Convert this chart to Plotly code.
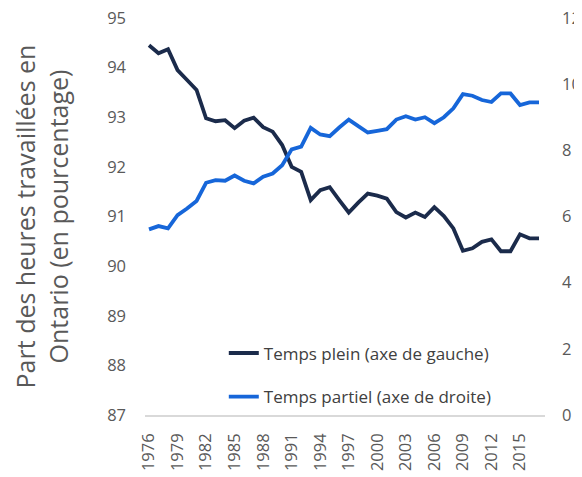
import plotly.graph_objects as go

annees = list(range(1976, 2018))

# Temps plein (axe de gauche), en %
temps_plein = [94.45, 94.29, 94.37, 93.95, 93.75, 93.55, 92.98, 92.92, 92.94, 92.78,
               92.93, 92.99, 92.80, 92.71, 92.44, 92.00, 91.90, 91.33, 91.53, 91.59,
               91.33, 91.08, 91.28, 91.46, 91.42, 91.36, 91.09, 90.98, 91.08, 90.99,
               91.19, 91.01, 90.76, 90.31, 90.36, 90.49, 90.54, 90.30, 90.30, 90.64,
               90.56, 90.56]

# Temps partiel (axe de droite), en %
temps_partiel = [5.61, 5.71, 5.64, 6.04, 6.24, 6.47, 7.02, 7.10, 7.08, 7.24,
                 7.08, 7.00, 7.20, 7.30, 7.55, 8.03, 8.11, 8.68, 8.48, 8.43,
                 8.69, 8.93, 8.73, 8.54, 8.59, 8.64, 8.93, 9.03, 8.93, 9.00,
                 8.82, 9.00, 9.27, 9.70, 9.65, 9.52, 9.46, 9.72, 9.72, 9.37,
                 9.45, 9.45]

ticks_x = list(range(1976, 2016, 3))

gris = '#595959'
police = 'Open Sans, Noto Sans, sans-serif'

fig = go.Figure()
fig.add_trace(go.Scatter(
    x=annees, y=temps_plein, mode='lines',
    name='Temps plein (axe de gauche)',
    line=dict(color='#1b2b4b', width=3.8),
    yaxis='y', legend='legend'
))
fig.add_trace(go.Scatter(
    x=annees, y=temps_partiel, mode='lines',
    name='Temps partiel (axe de droite)',
    line=dict(color='#1666d9', width=3.8),
    yaxis='y2', legend='legend2'
))

legende = dict(
    xanchor='left', yanchor='middle', x=0.197,
    bgcolor='rgba(0,0,0,0)',
    font=dict(size=17, color='#404040', family=police),
)

# la page a une marge de 8 px : la figure est un peu plus petite que la fenetre
fig.update_layout(
    width=574, height=469,
    margin=dict(l=137, r=37, t=10, b=62),
    plot_bgcolor='white',
    paper_bgcolor='white',
    font=dict(family=police, color=gris),
    showlegend=True,
    legend=dict(legende, y=0.155),
    legend2=dict(legende, y=0.045),
    xaxis=dict(
        range=[1975.58, 2017.63],
        tickvals=ticks_x,
        tickangle=-90,
        tickfont=dict(size=16.5, color=gris),
        showgrid=False, zeroline=False,
        showline=True, linecolor='#d9d9d9', linewidth=1.5,
        ticks='', ticklabelstandoff=10,
        ticklabeloverflow='allow',
        automargin=False,
    ),
    yaxis=dict(
        range=[87, 95], dtick=1,
        showgrid=False, zeroline=False,
        tickfont=dict(size=16.5, color=gris),
        title=dict(text='Part des heures travaillées en<br>Ontario (en pourcentage)',
                   font=dict(size=25, color=gris), standoff=43),
        ticklabelstandoff=18,
        ticklabeloverflow='allow',
        automargin=False,
    ),
    yaxis2=dict(
        range=[0, 12], dtick=2,
        overlaying='y', side='right',
        showgrid=False, zeroline=False,
        tickfont=dict(size=16.5, color=gris),
        ticklabelstandoff=16,
        ticklabeloverflow='allow',
        automargin=False,
    ),
)

fig.write_html('out.html')
